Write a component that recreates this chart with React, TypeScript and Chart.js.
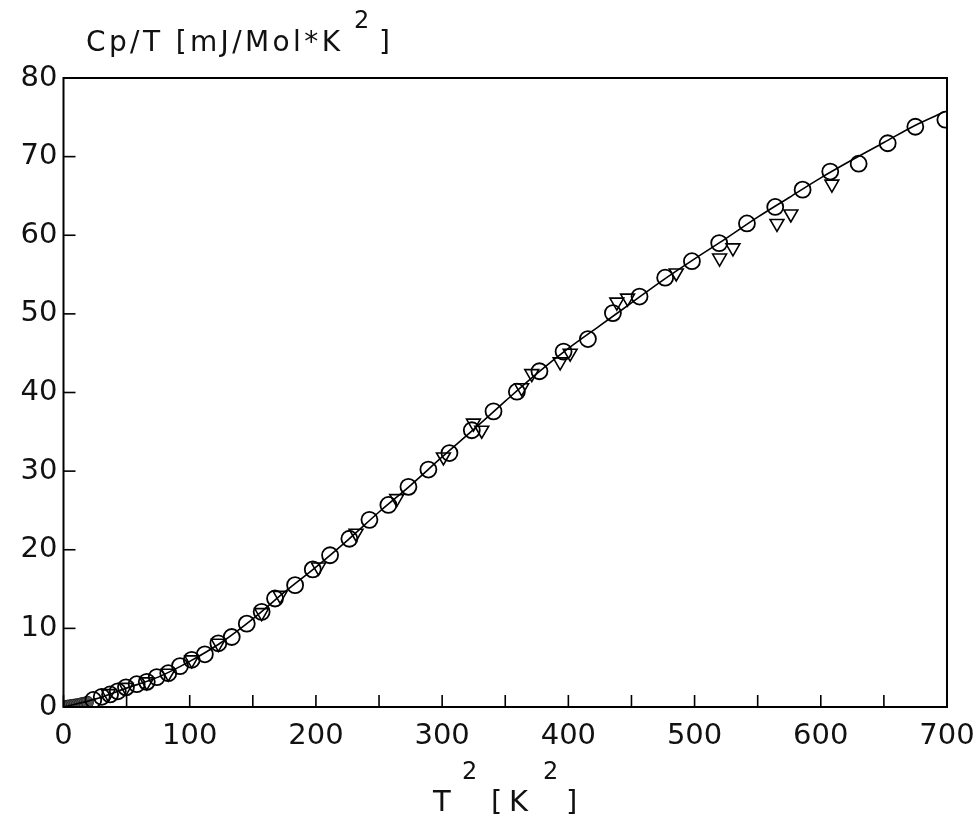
import React, { useEffect, useRef } from "react";
import { Chart, registerables } from "chart.js";

Chart.register(...registerables);

// Open circles (T^2 [K^2], Cp/T [mJ/Mol*K^2])
const circleX = [23.6, 30.3, 36.9, 43, 49.5, 58, 66, 73.9, 83, 92.3, 101.6, 112, 122.7, 133.3, 145.2, 157, 167.6, 183.5, 197.5, 211.2, 226.5, 242.4, 257.4, 273.3, 289.1, 305.8, 323.5, 340.7, 359.2, 377.1, 396.2, 415.5, 435.3, 456.4, 476.7, 497.9, 519.5, 541.5, 563.9, 585.6, 607.5, 630, 653, 674.9, 698.7];
const circleY = [0.9, 1.3, 1.6, 2.0, 2.5, 2.9, 3.2, 3.8, 4.3, 5.2, 6.0, 6.7, 8.1, 8.9, 10.6, 12.1, 13.8, 15.5, 17.5, 19.3, 21.4, 23.8, 25.7, 28.0, 30.2, 32.3, 35.2, 37.6, 40.1, 42.7, 45.2, 46.8, 50.1, 52.2, 54.6, 56.7, 59.0, 61.5, 63.6, 65.8, 68.1, 69.1, 71.7, 73.8, 74.7];

// Open down-pointing triangles
const triangleX = [35.5, 49.5, 66, 83, 101.6, 122.7, 157, 171.6, 202, 231.8, 264, 301, 324.8, 331.4, 363, 371, 393.5, 401.4, 438.4, 446.9, 485.5, 519.8, 530.4, 565.3, 576.3, 608.8];
const triangleY = [1.7, 2.5, 3.2, 4.3, 6.0, 8.1, 12.0, 14.2, 17.8, 22.1, 26.5, 31.8, 36.1, 35.2, 40.6, 42.4, 43.9, 45.0, 51.5, 52.0, 55.2, 57.1, 58.4, 61.5, 62.7, 66.5];

// Dense filled markers at the low end
const filledX = [1, 3, 5, 7, 9, 11, 13, 15, 17, 19];
const filledY = [0.05, 0.1, 0.15, 0.2, 0.25, 0.3, 0.35, 0.45, 0.5, 0.6];

// Fit curve
const fitX = [0, 25, 50, 75, 100, 125, 150, 175, 200, 225, 250, 275, 300, 325, 350, 375, 400, 425, 450, 475, 500, 525, 550, 575, 600, 625, 650, 675, 698];
const fitY = [0, 1.0, 2.4, 3.8, 5.8, 8.2, 11.2, 14.6, 17.8, 21.2, 24.8, 28.2, 31.8, 35.3, 38.9, 42.4, 45.6, 48.5, 51.4, 54.3, 57.0, 59.6, 62.3, 64.8, 67.3, 69.6, 71.8, 74.0, 75.7];

// Axes
const xTicksMin = 0, xTicksMax = 700, xStep = 50, xLabelEvery = 100;
const yTicksMin = 0, yTicksMax = 80, yStep = 10;

const FONT = "'DejaVu Sans', sans-serif";

const pts = (xs: number[], ys: number[]) => xs.map((x, i) => ({ x, y: ys[i] }));

const decorPlugin = {
  id: "decor",
  afterDraw(chart: any) {
    const { ctx, chartArea, scales } = chart;
    const { left, right, top, bottom } = chartArea;
    ctx.save();
    ctx.strokeStyle = "#000";
    ctx.lineWidth = 2;
    ctx.strokeRect(left, top, right - left, bottom - top);
    ctx.lineWidth = 1.6;
    const xs = scales.x, ys = scales.y;
    xs.ticks.forEach((t: any) => {
      const px = xs.getPixelForValue(t.value);
      ctx.beginPath();
      ctx.moveTo(px, bottom);
      ctx.lineTo(px, bottom - 12);
      ctx.stroke();
    });
    ys.ticks.forEach((t: any) => {
      const py = ys.getPixelForValue(t.value);
      ctx.beginPath();
      ctx.moveTo(left, py);
      ctx.lineTo(left + 12, py);
      ctx.stroke();
    });

    // Texts
    ctx.fillStyle = "#111";
    ctx.textBaseline = "alphabetic";
    ctx.textAlign = "left";
    const drawFit = (s: string, x: number, y: number, w: number, size: number) => {
      ctx.font = `${size}px ${FONT}`;
      (ctx as any).letterSpacing = "0px";
      const m = ctx.measureText(s).width;
      const sp = s.length > 1 ? (w - m) / (s.length - 1) : 0;
      (ctx as any).letterSpacing = `${sp}px`;
      ctx.fillText(s, x, y);
      (ctx as any).letterSpacing = "0px";
    };
    // y title
    drawFit("Cp/T [mJ/Mol*K", 86, 51, 254, 28);
    ctx.font = `24px ${FONT}`;
    ctx.fillText("2", 354, 28);
    ctx.font = `28px ${FONT}`;
    ctx.fillText("]", 379, 51);
    // x title
    ctx.font = `29px ${FONT}`;
    ctx.fillText("T", 433, 811);
    ctx.font = `24px ${FONT}`;
    ctx.fillText("2", 462, 779);
    drawFit("[K", 491, 811, 37, 29);
    ctx.font = `24px ${FONT}`;
    ctx.fillText("2", 543, 779);
    ctx.font = `29px ${FONT}`;
    ctx.fillText("]", 566, 811);
    ctx.restore();
  },
};

export default function App() {
  const ref = useRef<HTMLCanvasElement | null>(null);
  useEffect(() => {
    if (!ref.current) return;
    const chart = new Chart(ref.current, {
      type: "scatter",
      data: {
        datasets: [
          {
            label: "fit",
            data: pts(fitX, fitY),
            showLine: true,
            pointRadius: 0,
            borderColor: "#000",
            borderWidth: 1.6,
            cubicInterpolationMode: "monotone",
          } as any,
          {
            label: "circles",
            data: pts(circleX, circleY),
            pointStyle: "circle",
            pointRadius: 8,
            borderColor: "#000",
            backgroundColor: "rgba(0,0,0,0)",
            pointBorderWidth: 1.8,
          } as any,
          {
            label: "triangles",
            data: pts(triangleX, triangleY),
            pointStyle: "triangle",
            pointRotation: 180,
            pointRadius: 8,
            borderColor: "#000",
            backgroundColor: "rgba(0,0,0,0)",
            pointBorderWidth: 1.6,
          } as any,
          {
            label: "filled",
            data: pts(filledX, filledY),
            pointStyle: "circle",
            pointRadius: 6,
            borderColor: "#222",
            backgroundColor: "#555",
            pointBorderWidth: 1,
          } as any,
        ],
      },
      options: {
        animation: false,
        responsive: false,
        devicePixelRatio: 1,
        layout: { padding: { top: 78, right: 29, left: 0, bottom: 0 } },
        plugins: { legend: { display: false }, tooltip: { enabled: false } },
        scales: {
          x: {
            type: "linear",
            min: xTicksMin,
            max: xTicksMax,
            grid: { display: false, drawTicks: false },
            border: { display: false },
            afterFit: (s: any) => { s.height = 111; s.paddingRight = 0; s.paddingLeft = 0; },
            ticks: {
              stepSize: xStep,
              autoSkip: false,
              maxRotation: 0,
              padding: 12,
              color: "#111",
              font: { family: FONT, size: 29 },
              callback: (v: any) => (Number(v) % xLabelEvery === 0 ? String(v) : ""),
            },
          },
          y: {
            type: "linear",
            min: yTicksMin,
            max: yTicksMax,
            grid: { display: false, drawTicks: false },
            border: { display: false },
            afterFit: (s: any) => { s.width = 63.5; s.paddingTop = 0; s.paddingBottom = 0; },
            ticks: {
              stepSize: yStep,
              padding: 6,
              color: "#111",
              font: { family: FONT, size: 29 },
            },
          },
        },
      } as any,
      plugins: [decorPlugin],
    });
    return () => chart.destroy();
  }, []);
  return (
    <div style={{ position: "fixed", left: 0, top: 0, width: 976, height: 818, background: "#fff" }}>
      <canvas ref={ref} width={976} height={818} style={{ display: "block" }} />
    </div>
  );
}
